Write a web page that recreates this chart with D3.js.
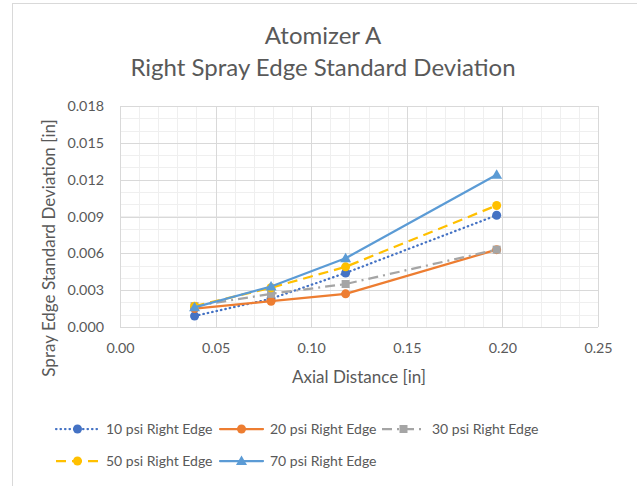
<!DOCTYPE html>
<meta charset="utf-8">
<style>
body { margin: 0; background: #fff; }
text { font-family: Lato, "Open Sans", sans-serif; fill: #595959; }
.tick text { font-size: 14.3px; }
.axis path, .axis line { display: none; }
</style>
<svg width="637" height="486"></svg>
<script src="https://d3js.org/d3.v7.min.js"></script>
<script>

// data
var distances = [0.039, 0.079, 0.118, 0.197];
var psi10 = [0.0009, 0.0023, 0.0044, 0.0091];
var psi20 = [0.0015, 0.0021, 0.0027, 0.0063];
var psi30 = [0.0017, 0.0027, 0.0035, 0.0063];
var psi50 = [0.0017, 0.0032, 0.0049, 0.0099];
var psi70 = [0.0016, 0.0033, 0.0056, 0.0124];
var seriesNames = ["10 psi Right Edge", "20 psi Right Edge", "30 psi Right Edge",
                   "50 psi Right Edge", "70 psi Right Edge"];
var xTicks = [0, 0.05, 0.10, 0.15, 0.20, 0.25];
var yTicks = [0, 0.003, 0.006, 0.009, 0.012, 0.015, 0.018];

var series = [
  {name: seriesNames[0], values: psi10, color: "#4472C4", dash: "0.5,4", cap: "round", marker: "circle"},
  {name: seriesNames[1], values: psi20, color: "#ED7D31", dash: null, cap: "round", marker: "circle"},
  {name: seriesNames[2], values: psi30, color: "#A5A5A5", dash: "10,5,2,5", cap: "butt", marker: "square"},
  {name: seriesNames[3], values: psi50, color: "#FFC000", dash: "10,6", cap: "butt", marker: "circle"},
  {name: seriesNames[4], values: psi70, color: "#5B9BD5", dash: null, cap: "round", marker: "triangle"}
];

var svg = d3.select("svg"),
    margin = {top: 106, right: 39, bottom: 159, left: 120},
    width = +svg.attr("width") - margin.left - margin.right,
    height = +svg.attr("height") - margin.top - margin.bottom;

// chart border
svg.append("rect")
    .attr("x", 12.5).attr("y", 3.5)
    .attr("width", 640).attr("height", 500)
    .attr("fill", "none").attr("stroke", "#d9d9d9");

var x = d3.scaleLinear().domain([0, 0.25]).range([0, width]),
    y = d3.scaleLinear().domain([0, 0.018]).range([height, 0]);

var g = svg.append("g")
    .attr("transform", "translate(" + margin.left + "," + margin.top + ")");

// minor grid
g.selectAll(".minor-x")
  .data(d3.range(0, 26).map(function(i) { return i * 0.01; }))
  .enter().append("line")
    .attr("x1", function(d) { return Math.round(x(d)) + 0.5; })
    .attr("x2", function(d) { return Math.round(x(d)) + 0.5; })
    .attr("y1", 0).attr("y2", height)
    .attr("stroke", "#efefef");
g.selectAll(".minor-y")
  .data(d3.range(0, 19).map(function(i) { return i * 0.001; }))
  .enter().append("line")
    .attr("y1", function(d) { return Math.round(y(d)) + 0.5; })
    .attr("y2", function(d) { return Math.round(y(d)) + 0.5; })
    .attr("x1", 0).attr("x2", width)
    .attr("stroke", "#efefef");

// major grid
g.selectAll(".major-x")
  .data(xTicks)
  .enter().append("line")
    .attr("x1", function(d) { return Math.round(x(d)) + 0.5; })
    .attr("x2", function(d) { return Math.round(x(d)) + 0.5; })
    .attr("y1", 0).attr("y2", height)
    .attr("stroke", "#d9d9d9");
g.selectAll(".major-y")
  .data(yTicks)
  .enter().append("line")
    .attr("y1", function(d) { return Math.round(y(d)) + 0.5; })
    .attr("y2", function(d) { return Math.round(y(d)) + 0.5; })
    .attr("x1", 0).attr("x2", width)
    .attr("stroke", "#d9d9d9");

// axes
g.append("g")
    .attr("class", "axis axis--x")
    .attr("transform", "translate(0," + height + ")")
    .call(d3.axisBottom(x).tickValues(xTicks).tickFormat(d3.format(".2f")).tickSize(0).tickPadding(16));

g.append("g")
    .attr("class", "axis axis--y")
    .call(d3.axisLeft(y).tickValues(yTicks).tickFormat(d3.format(".3f")).tickSize(0).tickPadding(16));

// lines and markers
var line = d3.line()
    .x(function(d, i) { return x(distances[i]); })
    .y(function(d) { return y(d); });

function drawMarker(sel, type, color) {
  if (type === "circle") {
    sel.append("circle").attr("r", 4.5).attr("fill", color);
  } else if (type === "square") {
    sel.append("rect").attr("x", -4).attr("y", -4).attr("width", 8).attr("height", 8).attr("fill", color);
  } else {
    sel.append("path").attr("d", "M0,-5.5L5.5,4L-5.5,4Z").attr("fill", color);
  }
}

series.forEach(function(s) {
  g.append("path")
      .datum(s.values)
      .attr("fill", "none")
      .attr("stroke", s.color)
      .attr("stroke-width", 2.25)
      .attr("stroke-linecap", s.cap)
      .attr("stroke-linejoin", "round")
      .attr("stroke-dasharray", s.dash)
      .attr("d", line);

  g.selectAll(null)
    .data(s.values)
    .enter().append("g")
      .attr("transform", function(d, i) { return "translate(" + x(distances[i]) + "," + y(d) + ")"; })
      .each(function() { drawMarker(d3.select(this), s.marker, s.color); });
});

// title
svg.append("text")
    .attr("x", 323).attr("y", 44)
    .attr("text-anchor", "middle")
    .style("font-size", "24px")
    .text("Atomizer A");
svg.append("text")
    .attr("x", 323).attr("y", 76)
    .attr("text-anchor", "middle")
    .style("font-size", "24px")
    .text("Right Spray Edge Standard Deviation");

// axis titles
svg.append("text")
    .attr("x", 359).attr("y", 383)
    .attr("text-anchor", "middle")
    .style("font-size", "17px")
    .text("Axial Distance [in]");

svg.append("text")
    .attr("transform", "translate(55,248) rotate(-90)")
    .attr("text-anchor", "middle")
    .style("font-size", "17px")
    .text("Spray Edge Standard Deviation [in]");

// legend
var legendPos = [
  {x: 56, y: 429}, {x: 220, y: 429}, {x: 382, y: 429},
  {x: 56, y: 461}, {x: 220, y: 461}
];

series.forEach(function(s, i) {
  var p = legendPos[i];
  var lg = svg.append("g").attr("transform", "translate(" + p.x + "," + p.y + ")");
  lg.append("line")
      .attr("x1", 0).attr("x2", 43)
      .attr("stroke", s.color)
      .attr("stroke-width", 2.25)
      .attr("stroke-linecap", s.cap)
      .attr("stroke-dasharray", s.dash);
  var m = lg.append("g").attr("transform", "translate(21.5,0)");
  drawMarker(m, s.marker, s.color);
  lg.append("text")
      .attr("x", 50)
      .attr("dy", "0.35em")
      .style("font-size", "14px")
      .text(s.name);
});

</script>
